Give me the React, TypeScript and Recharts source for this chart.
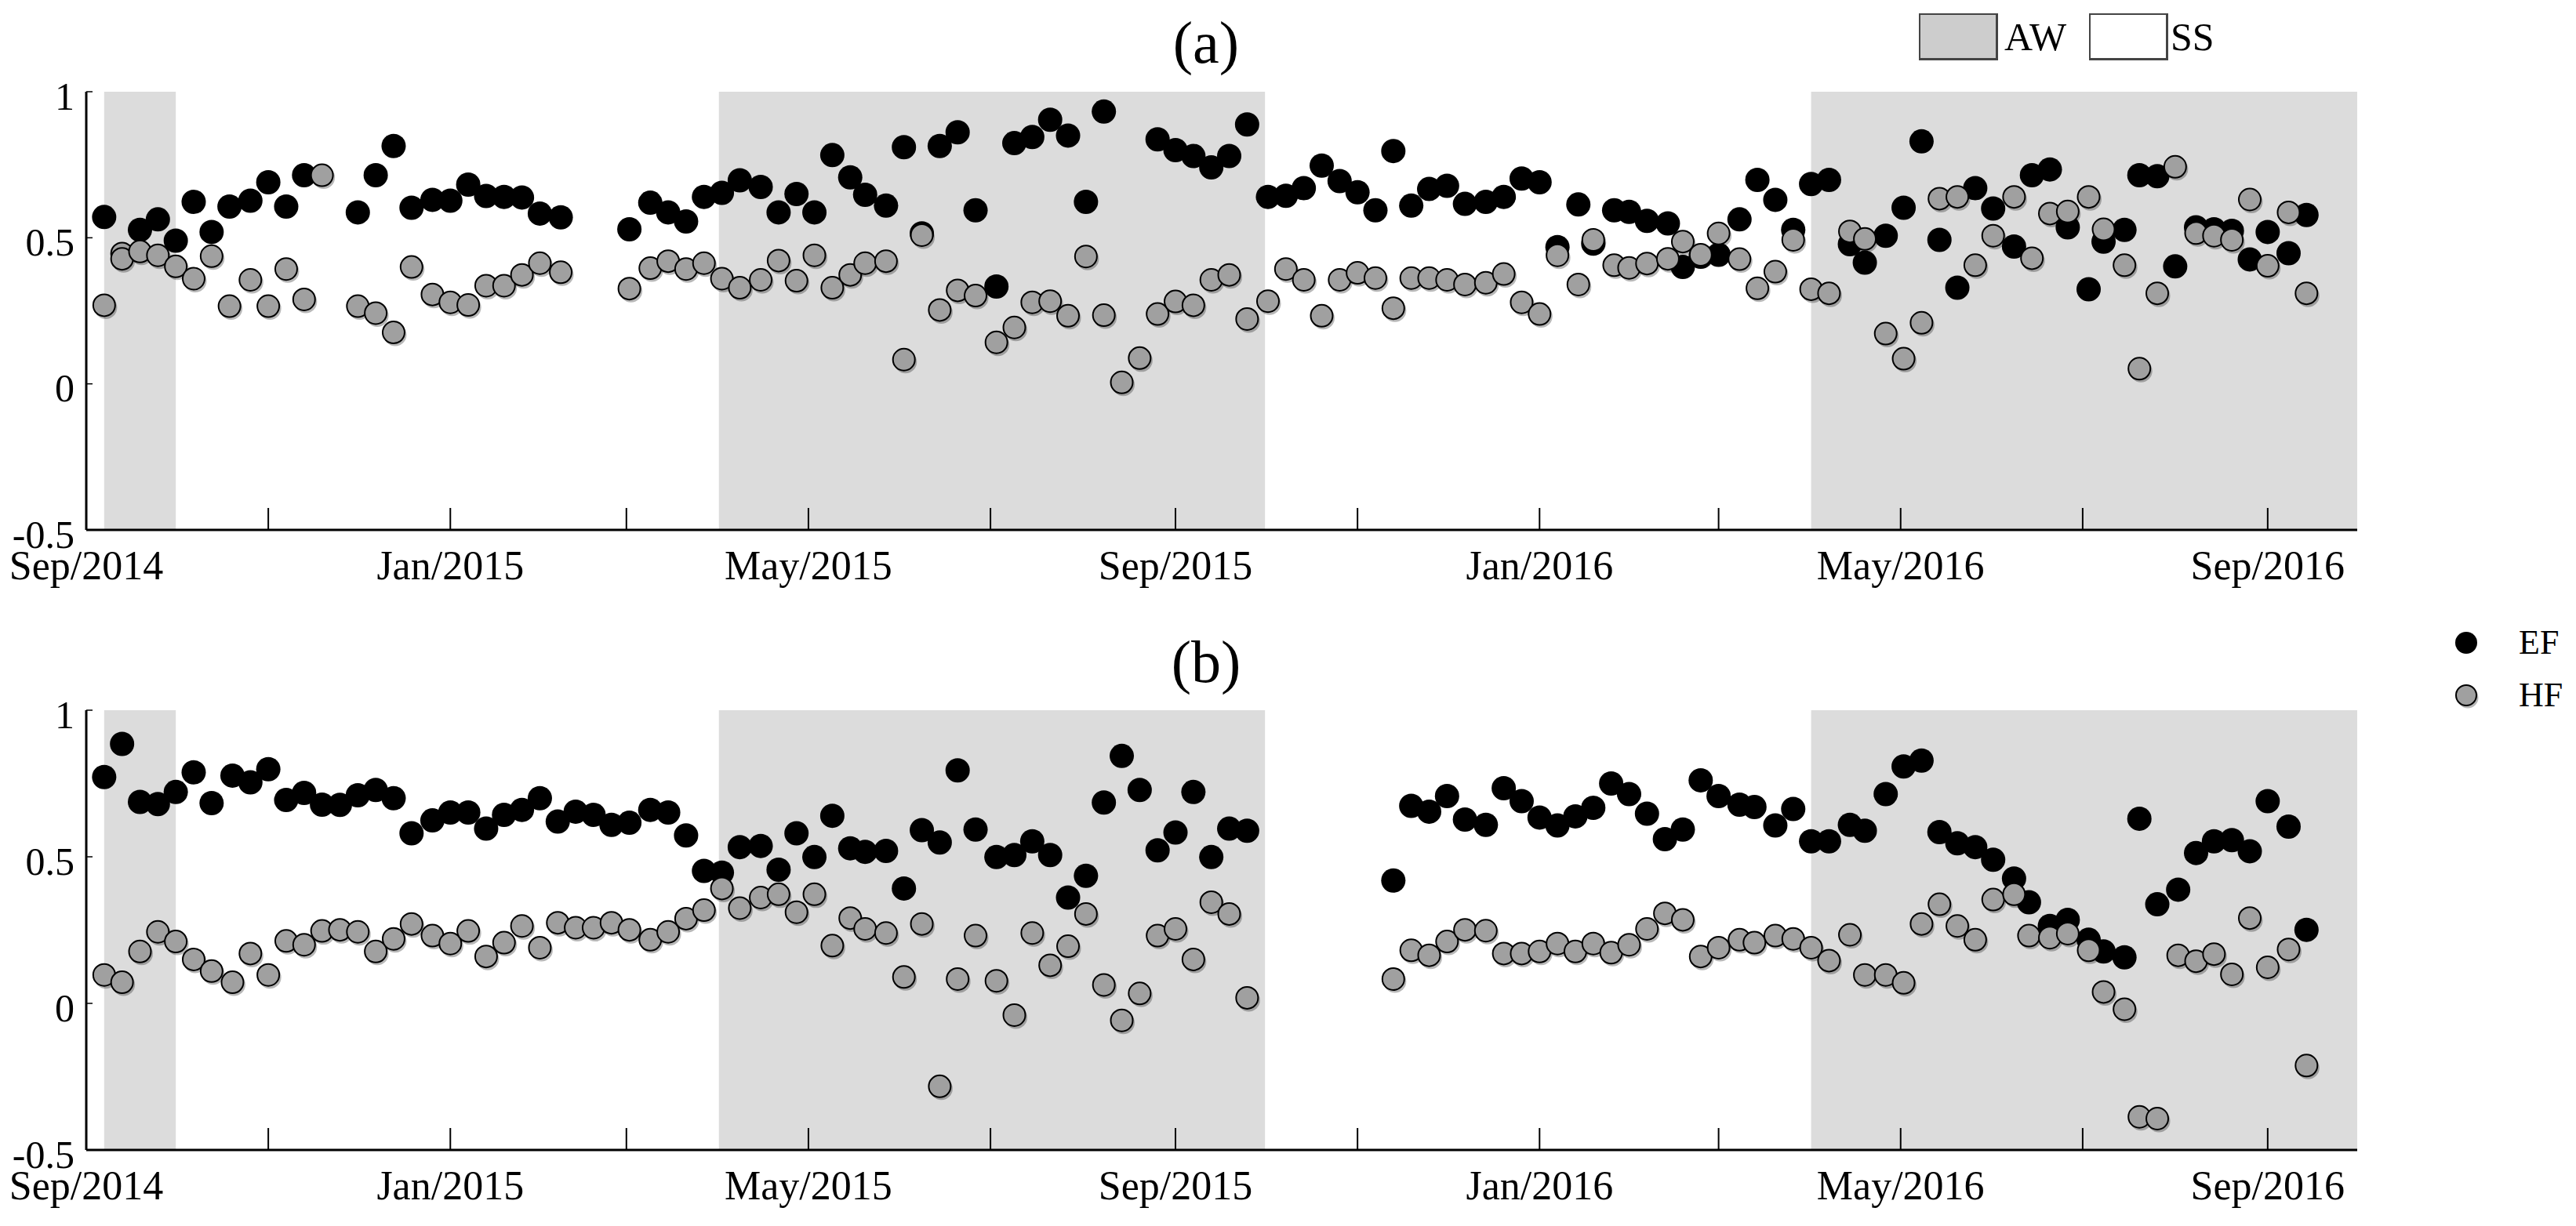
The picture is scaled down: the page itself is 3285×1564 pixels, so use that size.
import React from "react";
import {
  ReferenceArea,
  Scatter,
  ScatterChart,
  XAxis,
  YAxis,
} from "recharts";

// x values are days since 1 Sep 2014
const DAY0 = Date.UTC(2014, 8, 1);
const dayOf = (y: number, m: number) =>
  Math.round((Date.UTC(y, m, 1) - DAY0) / 864e5);

const MONTHS = ["Jan", "Feb", "Mar", "Apr", "May", "Jun", "Jul", "Aug", "Sep", "Oct", "Nov", "Dec"];

const tickMonths: [number, number][] = [
  [2014, 8], [2014, 10], [2015, 0], [2015, 2], [2015, 4], [2015, 6], [2015, 8],
  [2015, 10], [2016, 0], [2016, 2], [2016, 4], [2016, 6], [2016, 8],
];
const xTicks = tickMonths.map(([y, m]) => dayOf(y, m));
const xEnd = dayOf(2016, 9);
const yTicks = [-0.5, 0, 0.5, 1];

// AW (shaded) periods, start/end day
const awPeriods: [number, number][] = [
  [6, dayOf(2014, 9)],
  [dayOf(2015, 3), dayOf(2015, 9)],
  [dayOf(2016, 3), dayOf(2016, 9)],
];

// panel (a)
const aDays = [
  6, 12, 12, 18, 24, 30, 36, 42, 48, 55, 61, 67, 73, 79,
  91, 97, 103, 109, 116, 122, 128, 134, 140, 146, 152, 159,
  182, 189, 195, 201, 207, 213, 219, 226, 232, 238, 244, 250, 256, 261, 268, 274,
  280, 286, 292, 298, 305, 311, 317, 323, 329, 335, 341, 347, 353, 359, 365, 371,
  377, 383, 389, 396, 402, 408, 414, 420, 426, 432, 438, 444, 450, 456, 462, 469,
  475, 481, 487, 493, 500, 505, 512, 517, 523, 530, 535, 541, 547, 554, 560, 566,
  572, 578, 584, 591, 596, 603, 609, 615, 621, 627, 633, 639, 646, 652, 658, 664,
  671, 676, 683, 688, 694, 700, 707, 713, 719, 725, 731, 738, 744,
];
const aEF = [
  0.571, null, null, 0.527, 0.563, 0.49, 0.623, 0.52, 0.607, 0.627, 0.69, 0.607, 0.714, null,
  0.587, 0.714, 0.814, 0.603, 0.63, 0.627, 0.682, 0.643, 0.64, 0.638, 0.583, 0.57,
  0.529, 0.62, 0.587, 0.556, 0.64, 0.654, 0.697, 0.674, 0.587, 0.65, 0.587, 0.783, 0.707, 0.647, 0.61, 0.81,
  0.515, 0.814, 0.861, 0.594, 0.333, 0.824, 0.845, 0.904, 0.85, 0.623, 0.932, null, null, 0.837, 0.8, 0.78,
  0.741, 0.78, 0.888, 0.64, 0.644, 0.67, 0.747, 0.694, 0.656, 0.594, 0.797, 0.61, 0.667, 0.678, 0.616, 0.623,
  0.64, 0.703, 0.69, 0.468, 0.614, 0.48, 0.594, 0.589, 0.558, 0.549, 0.4, 0.435, 0.442, 0.563, 0.698, 0.63,
  0.527, 0.684, 0.698, 0.478, 0.415, 0.507, 0.603, 0.83, 0.493, 0.329, 0.67, 0.6, 0.47, 0.714, 0.734, 0.536,
  0.324, 0.487, 0.527, 0.714, 0.711, 0.402, 0.536, 0.529, 0.524, 0.426, 0.52, 0.447, 0.578,
];
const aHF = [
  0.269, 0.446, 0.428, 0.453, 0.44, 0.402, 0.36, 0.437, 0.266, 0.356, 0.266, 0.393, 0.289, 0.714,
  0.266, 0.242, 0.176, 0.4, 0.306, 0.279, 0.27, 0.336, 0.336, 0.373, 0.413, 0.382,
  0.326, 0.396, 0.42, 0.393, 0.413, 0.36, 0.329, 0.356, 0.422, 0.353, 0.44, 0.329, 0.373, 0.413, 0.42, 0.083,
  0.509, 0.253, 0.32, 0.302, 0.142, 0.193, 0.279, 0.283, 0.233, 0.436, 0.235, 0.005, 0.088, 0.239, 0.282, 0.269,
  0.356, 0.373, 0.222, 0.283, 0.393, 0.356, 0.233, 0.356, 0.38, 0.362, 0.259, 0.362, 0.362, 0.356, 0.34, 0.346,
  0.376, 0.279, 0.239, 0.44, 0.34, 0.493, 0.406, 0.397, 0.412, 0.428, 0.487, 0.442, 0.515, 0.427, 0.327, 0.384,
  0.493, 0.324, 0.31, 0.522, 0.496, 0.172, 0.086, 0.209, 0.634, 0.64, 0.406, 0.507, 0.64, 0.43, 0.583, 0.59,
  0.64, 0.529, 0.406, 0.052, 0.31, 0.743, 0.516, 0.507, 0.493, 0.631, 0.404, 0.587, 0.31,
];

// panel (b)
const bDays = [
  6, 12, 18, 24, 30, 36, 42, 49, 55, 61, 67, 73, 79, 85, 91, 97, 103, 109, 116, 122,
  128, 134, 140, 146, 152, 158, 164, 170, 176, 182, 189, 195, 201, 207, 213, 219, 226, 232, 238, 244,
  250, 256, 261, 268, 274, 280, 286, 292, 298, 305, 311, 317, 323, 329, 335, 341, 347, 353, 359, 365,
  371, 377, 383, 389,
  438, 444, 450, 456, 462, 469, 475, 481, 487, 493, 499, 505, 511, 517, 523, 529, 535, 541, 547, 554,
  559, 566, 572, 578, 584, 591, 596, 603, 609, 615, 621, 627, 633, 639, 646, 651, 658, 664, 671, 676,
  683, 688, 694, 701, 707, 713, 719, 725, 731, 738, 744,
];
const bEF = [
  0.772, 0.885, 0.687, 0.68, 0.721, 0.788, 0.683, 0.777, 0.754, 0.799, 0.694, 0.718, 0.678, 0.677, 0.71, 0.728, 0.7, 0.58, 0.624, 0.651,
  0.651, 0.596, 0.643, 0.66, 0.7, 0.62, 0.654, 0.643, 0.609, 0.616, 0.66, 0.651, 0.573, 0.452, 0.446, 0.533, 0.537, 0.456, 0.58, 0.499,
  0.64, 0.529, 0.517, 0.52, 0.392, 0.591, 0.549, 0.795, 0.593, 0.499, 0.506, 0.553, 0.506, 0.361, 0.435, 0.685, 0.844, 0.728, 0.522, 0.583,
  0.721, 0.499, 0.596, 0.589,
  0.419, 0.674, 0.654, 0.707, 0.627, 0.609, 0.734, 0.69, 0.634, 0.607, 0.638, 0.667, 0.75, 0.714, 0.647, 0.56, 0.593, 0.761, 0.707, 0.678,
  0.67, 0.607, 0.663, 0.553, 0.553, 0.609, 0.589, 0.714, 0.808, 0.828, 0.584, 0.546, 0.533, 0.49, 0.426, 0.345, 0.264, 0.285, 0.217, 0.177,
  0.157, 0.63, 0.338, 0.388, 0.513, 0.553, 0.557, 0.519, 0.69, 0.603, 0.251,
];
const bHF = [
  0.097, 0.072, 0.177, 0.244, 0.211, 0.15, 0.11, 0.072, 0.17, 0.097, 0.213, 0.2, 0.247, 0.251, 0.244, 0.177, 0.22, 0.271, 0.231, 0.204,
  0.247, 0.16, 0.207, 0.264, 0.19, 0.275, 0.258, 0.258, 0.275, 0.251, 0.217, 0.244, 0.289, 0.318, 0.392, 0.325, 0.361, 0.372, 0.311, 0.372,
  0.197, 0.291, 0.254, 0.24, 0.09, 0.271, -0.283, 0.083, 0.231, 0.077, -0.04, 0.24, 0.13, 0.195, 0.305, 0.063, -0.058, 0.034, 0.231, 0.254,
  0.15, 0.345, 0.305, 0.019,
  0.083, 0.181, 0.164, 0.211, 0.251, 0.248, 0.17, 0.17, 0.177, 0.204, 0.177, 0.204, 0.173, 0.2, 0.254, 0.307, 0.285, 0.16, 0.19, 0.217,
  0.207, 0.231, 0.22, 0.19, 0.146, 0.234, 0.097, 0.097, 0.07, 0.271, 0.338, 0.264, 0.217, 0.354, 0.372, 0.231, 0.224, 0.238, 0.181, 0.039,
  -0.02, -0.387, -0.393, 0.164, 0.144, 0.168, 0.099, 0.291, 0.123, 0.184, -0.212,
];

const FONT = "Liberation Serif";
const W = 3285;
const H = 780;

const toRows = (days: number[], vals: (number | null)[]) =>
  days
    .map((d, i) => ({ day: d, v: vals[i] }))
    .filter((r) => r.v !== null && r.v !== undefined);

const fmtTick = (d: number) => {
  const dt = new Date(DAY0 + d * 864e5);
  const m = dt.getUTCMonth();
  return m % 4 === 0 ? `${MONTHS[m]}/${dt.getUTCFullYear()}` : "";
};

const EFDot = (props: any) => {
  const { cx, cy } = props;
  if (cx == null || cy == null) return null;
  return <circle cx={cx} cy={cy} r={15.5} fill="#000" />;
};

const HFDot = (props: any) => {
  const { cx, cy } = props;
  if (cx == null || cy == null) return null;
  return (
    <g>
      <circle cx={cx + 2} cy={cy + 3} r={14.5} fill="rgba(0,0,0,0.28)" />
      <circle cx={cx} cy={cy} r={14} fill="#a0a0a0" stroke="#000" strokeWidth={2} />
    </g>
  );
};

const Panel = ({
  days,
  ef,
  hf,
  top,
  bottom,
}: {
  days: number[];
  ef: (number | null)[];
  hf: (number | null)[];
  top: number;
  bottom: number;
}) => {
  const efRows = toRows(days, ef);
  const hfRows = toRows(days, hf);
  return (
    <ScatterChart
      width={W}
      height={H}
      margin={{ top, right: 279, bottom, left: 0 }}
      style={{ fontFamily: FONT }}
    >
      {awPeriods.map(([s, e], i) => (
        <ReferenceArea
          key={i}
          x1={s}
          x2={e}
          fill="#dcdcdc"
          fillOpacity={1}
          stroke="none"
        />
      ))}
      <XAxis
        type="number"
        dataKey="day"
        domain={[0, xEnd]}
        ticks={xTicks}
        allowDataOverflow
        height={60}
        tickSize={-28}
        tickMargin={54}
        tickFormatter={fmtTick}
        interval={0}
        axisLine={{ stroke: "#000", strokeWidth: 3 }}
        tickLine={{ stroke: "#000", strokeWidth: 2 }}
        tick={{ fill: "#000", fontSize: 52, fontFamily: FONT }}
      />
      <XAxis
        xAxisId="t"
        orientation="top"
        type="number"
        domain={[0, xEnd]}
        ticks={xTicks}
        allowDataOverflow
        height={0}
        tickSize={-28}
        tick={false}
        interval={0}
        axisLine={{ stroke: "#000", strokeWidth: 3 }}
        tickLine={{ stroke: "#000", strokeWidth: 2 }}
      />
      <YAxis
        type="number"
        dataKey="v"
        domain={[-0.5, 1]}
        ticks={yTicks}
        allowDataOverflow
        width={110}
        tickSize={-8}
        tickMargin={23}
        interval={0}
        axisLine={{ stroke: "#000", strokeWidth: 3 }}
        tickLine={{ stroke: "#000", strokeWidth: 1.5 }}
        tick={{ fill: "#000", fontSize: 50, fontFamily: FONT, dy: 5 }}
      />
      <YAxis
        yAxisId="r"
        orientation="right"
        type="number"
        domain={[-0.5, 1]}
        ticks={yTicks}
        allowDataOverflow
        width={0}
        tickSize={-8}
        tick={false}
        interval={0}
        axisLine={{ stroke: "#000", strokeWidth: 1.5 }}
        tickLine={{ stroke: "#000", strokeWidth: 1.5 }}
      />
      <Scatter
        name="EF"
        data={efRows}
        dataKey="v"
        shape={EFDot}
        isAnimationActive={false}
      />
      <Scatter
        name="HF"
        data={hfRows}
        dataKey="v"
        shape={HFDot}
        isAnimationActive={false}
      />
    </ScatterChart>
  );
};

const abs = (left: number, top: number, extra: React.CSSProperties = {}) =>
  ({ position: "absolute", left, top, ...extra }) as React.CSSProperties;

export default function App() {
  return (
    <div
      style={{
        position: "absolute",
        left: 0,
        top: 0,
        width: W,
        height: 1564,
        background: "#fff",
        fontFamily: FONT,
        color: "#000",
        overflow: "hidden",
      }}
    >
      <div style={abs(0, 0)}>
        <Panel days={aDays} ef={aEF} hf={aHF} top={117} bottom={44} />
      </div>
      <div style={abs(0, 780)}>
        <Panel days={bDays} ef={bEF} hf={bHF} top={126} bottom={33} />
      </div>

      {/* panel titles */}
      <div style={abs(1438, 6, { width: 200, textAlign: "center", fontSize: 76, lineHeight: "96px" })}>(a)</div>
      <div style={abs(1438, 796, { width: 200, textAlign: "center", fontSize: 76, lineHeight: "96px" })}>(b)</div>

      {/* AW / SS legend */}
      <div
        style={abs(2447, 17, {
          width: 96,
          height: 55,
          background: "#cdcdcd",
          border: "2px solid #444",
          borderRightWidth: 3,
          borderBottomWidth: 3,
        })}
      />
      <div style={abs(2556, 17, { fontSize: 50, lineHeight: "60px" })}>AW</div>
      <div
        style={abs(2664, 17, {
          width: 96,
          height: 55,
          background: "#fff",
          border: "2px solid #444",
          borderRightWidth: 3,
          borderBottomWidth: 3,
        })}
      />
      <div style={abs(2768, 17, { fontSize: 50, lineHeight: "60px" })}>SS</div>

      {/* EF / HF legend */}
      <svg style={abs(3120, 795)} width={60} height={120}>
        <circle cx={25} cy={25} r={14} fill="#000" />
        <circle cx={27} cy={95} r={13.5} fill="rgba(0,0,0,0.28)" />
        <circle cx={25} cy={92} r={13} fill="#a0a0a0" stroke="#000" strokeWidth={2} />
      </svg>
      <div style={abs(3212, 793, { fontSize: 44, lineHeight: "54px" })}>EF</div>
      <div style={abs(3212, 860, { fontSize: 44, lineHeight: "54px" })}>HF</div>
    </div>
  );
}
